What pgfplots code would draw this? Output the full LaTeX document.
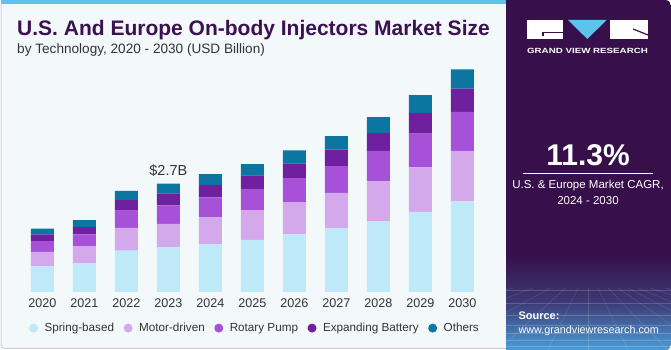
\documentclass[border=0pt]{standalone}
\usepackage{fontspec}
\setmainfont{Liberation Sans}
\usepackage{graphicx}
\usepackage{pgfplots}
\pgfplotsset{compat=1.18}
\definecolor{spring}{HTML}{BDE9F8}
\definecolor{motor}{HTML}{D4A9EC}
\definecolor{rotary}{HTML}{A651D8}
\definecolor{battery}{HTML}{6F209E}
\definecolor{others}{HTML}{0B77A1}
\definecolor{leftbg}{HTML}{F3F8FB}
\definecolor{bordergray}{HTML}{D0D0D0}
\definecolor{topblue}{HTML}{5BC3EC}
\definecolor{darkpurple}{HTML}{37104B}
\definecolor{gvrblue}{HTML}{4A9ED8}
\definecolor{titlepurple}{HTML}{3B1151}
\definecolor{textgray}{HTML}{333333}
\begin{document}
\begin{tikzpicture}
\begin{scope}[x=1pt,y=1pt]
\fill[white] (0,0) rectangle (671,350);
\filldraw[fill=leftbg, draw=bordergray, line width=1pt, rounded corners=4pt] (1,1.5) rectangle (530,349);
\fill[topblue] (0.5,345.5) rectangle (506,350);
\begin{scope}
\clip[rounded corners=6pt] (500,0) rectangle (671,350);
\fill[darkpurple] (506,0) rectangle (671,350);
\shade[top color=darkpurple, bottom color=gvrblue, middle color=darkpurple!70!gvrblue] (506,0) rectangle (671,95);
\foreach \yy in {4,10,17,25,35,47,60}{\draw[white, opacity=0.18, line width=0.4pt] (506,\yy) -- (671,\yy);}
\foreach \xx in {-300,-220,-150,-90,-40,0,40,80,120,160,200,250,310,380}{\draw[white, opacity=0.15, line width=0.4pt] (588+\xx,0) -- (588+0.25*\xx,62);}
\end{scope}
% logo
\fill[white] (526.7,311) rectangle (563.3,330);
\draw[darkpurple, line width=1.2pt] (543,317.7) -- (563.3,317.7);
\draw[darkpurple, line width=1.2pt] (543,317.7) -- (543,313.5);
\fill[topblue] (568,330) -- (606.7,330) -- (587.3,311) -- cycle;
\fill[white] (610,311) rectangle (648,330);
\draw[darkpurple, line width=1.2pt] (633,321) -- (648,315);
\node[anchor=center, inner sep=0, text=white] at (587.5,299.3) {\scalebox{1.3}[1.0]{\fontsize{7.5}{9}\selectfont\bfseries GRAND VIEW RESEARCH}};
% CAGR
\node[anchor=base, inner sep=0, text=white, font={\fontsize{30}{34}\selectfont\bfseries}] at (588,184.3) {11.3\%};
\draw[white, line width=0.8pt] (522.7,176.7) -- (652.7,176.7);
\node[anchor=base, inner sep=0, text=white, font={\fontsize{11.5}{14}\selectfont}] at (588,161) {U.S. \& Europe Market CAGR,};
\node[anchor=base, inner sep=0, text=white, font={\fontsize{11.5}{14}\selectfont}] at (588,145.5) {2024 - 2030};
\node[anchor=base west, inner sep=0, text=white, font={\fontsize{11}{13}\selectfont\bfseries}] at (518.3,30) {Source:};
\node[anchor=base west, inner sep=0, text=white, font={\fontsize{10.8}{13}\selectfont}] at (518.3,16) {www.grandviewresearch.com};
% titles
\node[anchor=base west, inner sep=0, text=titlepurple, font={\fontsize{21}{24}\selectfont\bfseries}] at (17,314.3) {U.S. And Europe On-body Injectors Market Size};
\node[anchor=base west, inner sep=0, text=textgray, font={\fontsize{13.6}{16}\selectfont}] at (17,296.7) {by Technology, 2020 - 2030 (USD Billion)};
\end{scope}
\begin{axis}[
 at={(0.28pt,58pt)}, anchor=south west,
 scale only axis, width=504.2pt, height=240.6pt,
 xmin=-1, xmax=11, ymin=0, ymax=6,
 ybar stacked, bar width=23pt,
 clip=false,
 hide y axis,
 axis x line*=bottom,
 x axis line style={draw=none},
 xtick={0,1,2,3,4,5,6,7,8,9,10},
 xticklabels={2020,2021,2022,2023,2024,2025,2026,2027,2028,2029,2030},
 major tick length=0pt,
 xtick style={draw=none},
 xticklabel style={anchor=north, inner sep=0pt, yshift=-6.3pt, font={\fontsize{12.6}{14}\selectfont}, text=textgray},
 legend columns=-1,
 legend cell align=left,
 legend style={at={(0.0566,-0.150)}, anchor=west, draw=none, fill=none, inner sep=0pt,
   font={\fontsize{11.7}{13}\selectfont}, text=textgray, nodes={inner sep=0pt},
   /tikz/every odd column/.append style={column sep=6.5pt},
   /tikz/every even column/.append style={column sep=9.5pt}},
 legend image code/.code={\fill[#1] (4.5pt,0pt) circle (4.5pt);},
]
\addplot[fill=spring, draw=none] coordinates {(0,0.64) (1,0.72) (2,1.03) (3,1.11) (4,1.19) (5,1.30) (6,1.44) (7,1.59) (8,1.77) (9,2.00) (10,2.26)};
\addplot[fill=motor, draw=none] coordinates {(0,0.36) (1,0.42) (2,0.57) (3,0.59) (4,0.67) (5,0.74) (6,0.80) (7,0.88) (8,0.99) (9,1.11) (10,1.26)};
\addplot[fill=rotary, draw=none] coordinates {(0,0.27) (1,0.30) (2,0.43) (3,0.46) (4,0.50) (5,0.53) (6,0.60) (7,0.67) (8,0.76) (9,0.84) (10,0.97)};
\addplot[fill=battery, draw=none] coordinates {(0,0.17) (1,0.18) (2,0.27) (3,0.30) (4,0.31) (5,0.34) (6,0.37) (7,0.41) (8,0.45) (9,0.52) (10,0.58)};
\addplot[fill=others, draw=none] coordinates {(0,0.14) (1,0.17) (2,0.22) (3,0.24) (4,0.27) (5,0.28) (6,0.32) (7,0.34) (8,0.39) (9,0.44) (10,0.48)};
\legend{Spring-based, Motor-driven, Rotary Pump, Expanding Battery, Others}
\node[anchor=base, inner sep=0pt, text=textgray, font={\fontsize{14.5}{16}\selectfont}] at (axis cs:3,2.7) [yshift=8pt] {\$2.7B};
\end{axis}
\end{tikzpicture}
\end{document}
